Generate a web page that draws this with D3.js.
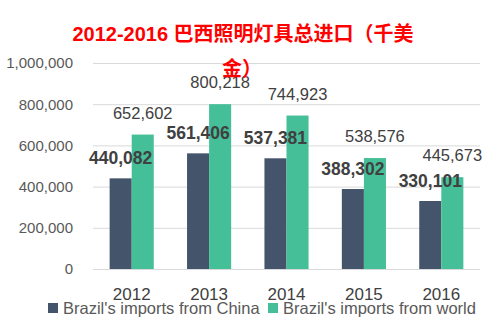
<!DOCTYPE html>
<html>
<head>
<meta charset="utf-8">
<script src="https://cdn.jsdelivr.net/npm/d3@7"></script>
<style>
  body { margin: 0; background: #fff; }
  text { font-family: "Liberation Sans", Arial, sans-serif; }
</style>
</head>
<body>
<div id="chart"></div>
<script>
var years = ["2012", "2013", "2014", "2015", "2016"]
var fromChina = [440082, 561406, 537381, 388302, 330101]
var fromWorld = [652602, 800218, 744923, 538576, 445673]
var yTicks = [0, 200000, 400000, 600000, 800000, 1000000]
var seriesNames = ["Brazil's imports from China", "Brazil's imports from world"]
var colors = ["#44546a", "#45bf98"]

var margin = {top: 63, right: 20, bottom: 57, left: 93},
    width = 500 - margin.left - margin.right,
    height = 326 - margin.top - margin.bottom;

var svg = d3.select("#chart")
  .append("svg")
    .attr("width", 500)
    .attr("height", 326)

var g = svg.append("g")
    .attr("transform", "translate(" + margin.left + "," + margin.top + ")");

var x = d3.scaleBand().domain(years).range([0, width]).paddingInner(0.43).paddingOuter(0.215);
var y = d3.scaleLinear().domain([0, 1000000]).range([height, 0]);
var fmt = d3.format(",");

// gridlines
g.selectAll(".grid")
  .data(yTicks)
  .enter().append("line")
    .attr("x1", 0).attr("x2", width)
    .attr("y1", function(d) { return y(d) + 0.5 })
    .attr("y2", function(d) { return y(d) + 0.5 })
    .attr("stroke", "#d9d9d9")
    .attr("stroke-width", 1)

// y axis labels
var yAxis = d3.axisLeft(y).tickValues(yTicks).tickFormat(fmt).tickSize(0).tickPadding(20);
g.append("g").call(yAxis)
  .call(function(s) { s.select(".domain").remove() })
  .selectAll("text")
    .attr("font-size", 15)
    .attr("fill", "#595959")
    .style("font-family", "'Liberation Sans', Arial, sans-serif")

// x axis labels
var xAxis = d3.axisBottom(x).tickSize(0).tickPadding(19);
g.append("g").attr("transform", "translate(0," + height + ")").call(xAxis)
  .call(function(s) { s.select(".domain").remove() })
  .selectAll("text")
    .attr("font-size", 17)
    .attr("fill", "#404040")
    .style("font-family", "'Liberation Sans', Arial, sans-serif")

var bw = x.bandwidth() / 2;

// China bars
g.selectAll(".china")
  .data(years)
  .enter().append("rect")
    .attr("x", function(d) { return x(d) })
    .attr("y", function(d, i) { return y(fromChina[i]) })
    .attr("width", bw)
    .attr("height", function(d, i) { return height - y(fromChina[i]) })
    .attr("fill", colors[0])

// world bars
g.selectAll(".world")
  .data(years)
  .enter().append("rect")
    .attr("x", function(d) { return x(d) + bw })
    .attr("y", function(d, i) { return y(fromWorld[i]) })
    .attr("width", bw)
    .attr("height", function(d, i) { return height - y(fromWorld[i]) })
    .attr("fill", colors[1])

// world labels
g.selectAll(".wlab")
  .data(years)
  .enter().append("text")
    .attr("x", function(d) { return x(d) + bw * 1.5 })
    .attr("y", function(d, i) { return y(fromWorld[i]) - 16 })
    .attr("text-anchor", "middle")
    .attr("font-size", 16.5)
    .attr("fill", "#404040")
    .text(function(d, i) { return fmt(fromWorld[i]) })

// China labels (bold)
g.selectAll(".clab")
  .data(years)
  .enter().append("text")
    .attr("x", function(d) { return x(d) + bw * 0.5 })
    .attr("y", function(d, i) { return y(fromChina[i]) - 14 })
    .attr("text-anchor", "middle")
    .attr("font-size", 17.5)
    .attr("font-weight", "bold")
    .attr("fill", "#404040")
    .text(function(d, i) { return fmt(fromChina[i]) })

// title
var title = svg.append("text")
    .attr("text-anchor", "middle")
    .attr("fill", "#ff0000")
    .attr("font-size", 20)
    .attr("font-weight", "bold")
    .style("font-family", "'Liberation Sans', 'Noto Sans CJK SC', sans-serif")
title.append("tspan").attr("x", 243).attr("y", 41).text("2012-2016 巴西照明灯具总进口（千美")
title.append("tspan").attr("x", 242).attr("y", 76).text("金）")

// legend
var legX = [48, 268];
var leg = svg.selectAll(".leg")
  .data(seriesNames)
  .enter().append("g")
    .attr("transform", function(d, i) { return "translate(" + legX[i] + ",303)" })
leg.append("rect").attr("width", 10).attr("height", 10).attr("fill", function(d, i) { return colors[i] })
leg.append("text")
    .attr("x", 15).attr("y", 10.5)
    .attr("font-size", 16.5)
    .attr("fill", "#595959")
    .text(function(d) { return d })
</script>
</body>
</html>
